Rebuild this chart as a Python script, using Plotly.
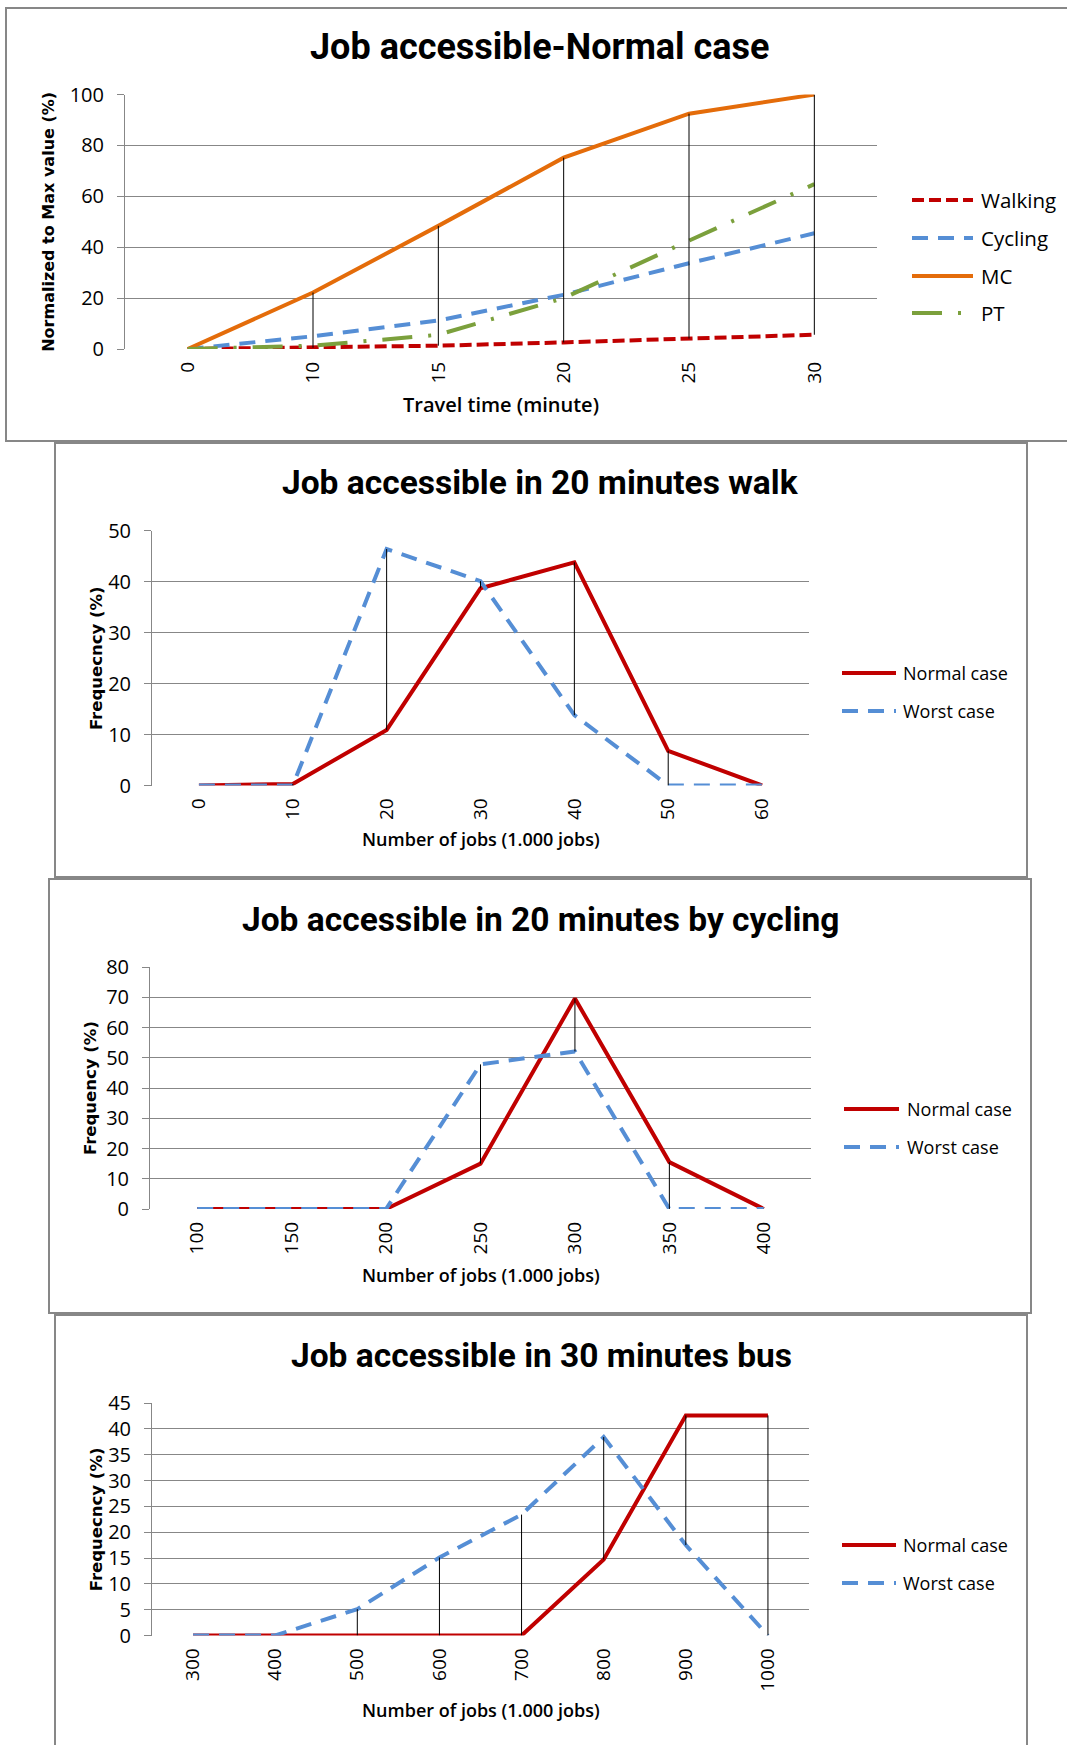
import plotly.graph_objects as go

W, H = 1067, 1745

# ---- Panel 1: jobs reachable vs travel time (normalised to max) ----
travel_time = ["0", "10", "15", "20", "25", "30"]
walking = [0, 0.5, 1.3, 2.6, 4.1, 5.6]
cycling = [0, 5.0, 11.2, 21.3, 33.7, 45.5]
mc = [0, 22.2, 48.4, 75.2, 92.5, 100]
pt = [0, 1.3, 5.6, 20.0, 42.6, 64.8]

# ---- Panel 2: 20 minutes walk ----
walk_jobs = ["0", "10", "20", "30", "40", "50", "60"]
walk_normal = [0, 0.3, 10.9, 38.7, 43.8, 6.8, 0]
walk_worst = [0, 0, 46.4, 40.1, 13.8, 0, 0]

# ---- Panel 3: 20 minutes by cycling ----
cyc_jobs = ["100", "150", "200", "250", "300", "350", "400"]
cyc_normal = [0, 0, 0, 15.0, 69.6, 15.5, 0]
cyc_worst = [0, 0, 0, 47.8, 52.1, 0, 0]

# ---- Panel 4: 30 minutes bus ----
bus_jobs = ["300", "400", "500", "600", "700", "800", "900", "1000"]
bus_normal = [0, 0, 0, 0, 0, 14.7, 42.6, 42.6]
bus_worst = [0, 0, 5.1, 15.1, 23.4, 38.4, 17.5, 0]

RED = "#C00000"
BLUE = "#558ED5"
ORANGE = "#E46C0A"
GREEN = "#7BA03C"
GRID = "#878787"
FRAME = "#878787"

TITLE_FAMILY = "Roboto, Lato, sans-serif"
TICK_FONT = dict(family="Open Sans, sans-serif", size=20, color="black")
XTICK_FONT = dict(family="Open Sans, sans-serif", size=19, color="black")

WALK_DASH = "12px,5px"
CYC_DASH = "16px,10px"
PT_DASH = "30px,16px,3px,16px"

panels = [
    dict(
        plot=(125, 94.6, 877, 349), frame=(6, 8, 1080, 441),
        cats=travel_time, yrange=100, dtick=20,
        series=[("Walking", walking, RED, WALK_DASH),
                ("Cycling", cycling, BLUE, CYC_DASH),
                ("MC", mc, ORANGE, "solid"),
                ("PT", pt, GREEN, PT_DASH)],
        title=("Job accessible-Normal case", 540, 47, 36),
        ytitle=("Normalized to Max value (%)", 49, 16),
        xtitle=("Travel time (minute)", 405, 20),
        legend=dict(x0=912, x1=973, tx=979, y=[200, 238, 276, 313], size=20.5),
    ),
    dict(
        plot=(152, 530.7, 809, 785.5), frame=(55, 443, 1027, 877),
        cats=walk_jobs, yrange=50, dtick=10,
        series=[("Normal case", walk_normal, RED, "solid"),
                ("Worst case", walk_worst, BLUE, CYC_DASH)],
        title=("Job accessible in 20 minutes walk", 540, 483, 33.5),
        ytitle=("Frequecncy (%)", 96, 16.5),
        xtitle=("Number of jobs (1.000 jobs)", 839, 18),
        legend=dict(x0=842, x1=896, tx=901, y=[673, 711], size=18),
    ),
    dict(
        plot=(150, 967, 811, 1209), frame=(49, 879, 1031, 1313),
        cats=cyc_jobs, yrange=80, dtick=10,
        series=[("Normal case", cyc_normal, RED, "solid"),
                ("Worst case", cyc_worst, BLUE, CYC_DASH)],
        title=("Job accessible in 20 minutes by cycling", 540, 919, 33.5),
        ytitle=("Frequency (%)", 90, 16.5),
        xtitle=("Number of jobs (1.000 jobs)", 1275, 18),
        legend=dict(x0=844, x1=899, tx=905, y=[1109, 1147], size=18),
    ),
    dict(
        plot=(152, 1403, 809, 1635.5), frame=(55, 1315, 1027, 1760),
        cats=bus_jobs, yrange=45, dtick=5,
        series=[("Normal case", bus_normal, RED, "solid"),
                ("Worst case", bus_worst, BLUE, CYC_DASH)],
        title=("Job accessible in 30 minutes bus", 541, 1355, 33.5),
        ytitle=("Frequecncy (%)", 96, 16.5),
        xtitle=("Number of jobs (1.000 jobs)", 1710, 18),
        legend=dict(x0=842, x1=896, tx=901, y=[1545, 1583], size=18),
    ),
]


def px(x):
    return x / W


def py(y):
    return 1 - y / H


fig = go.Figure()
shapes = []
annotations = []
layout = {}

for k, p in enumerate(panels, start=1):
    sfx = "" if k == 1 else str(k)
    xa, ya = "x" + sfx, "y" + sfx
    x0, y0, x1, y1 = p["plot"]
    cats = p["cats"]
    n = len(cats)

    layout["xaxis" + sfx] = dict(
        domain=[px(x0), px(x1)], anchor=ya, type="category",
        range=[-0.5, n - 0.5], showgrid=False, showline=False, zeroline=False,
        ticks="", tickangle=-90, tickfont=XTICK_FONT, ticklabelstandoff=8,
        fixedrange=True, automargin=False,
    )
    layout["yaxis" + sfx] = dict(
        domain=[py(y1), py(y0)], anchor=xa, range=[0, p["yrange"]],
        dtick=p["dtick"], tick0=0, showgrid=True, gridcolor=GRID, gridwidth=1,
        showline=True, linecolor=GRID, linewidth=1, zeroline=False,
        ticks="outside", ticklen=7, tickcolor=GRID, tickfont=TICK_FONT,
        ticklabelstandoff=9, fixedrange=True, automargin=False,
    )

    # series lines
    for name, vals, color, dash in p["series"]:
        fig.add_trace(go.Scatter(
            x=cats, y=vals, mode="lines", name=name, xaxis=xa, yaxis=ya,
            line=dict(color=color, width=4, dash=dash), showlegend=False,
        ))

    # high-low lines between the series at each category
    hx, hy = [], []
    for i, c in enumerate(cats):
        col = [s[1][i] for s in p["series"]]
        lo, hi = min(col), max(col)
        if hi > lo:
            hx += [c, c, None]
            hy += [lo, hi, None]
    fig.add_trace(go.Scatter(
        x=hx, y=hy, mode="lines", xaxis=xa, yaxis=ya, showlegend=False,
        line=dict(color="black", width=1), hoverinfo="skip",
    ))

    # chart frame
    fx0, fy0, fx1, fy1 = p["frame"]
    shapes.append(dict(
        type="rect", xref="paper", yref="paper",
        x0=px(fx0), x1=px(fx1), y0=py(fy1), y1=py(fy0),
        line=dict(color=FRAME, width=2), fillcolor="rgba(0,0,0,0)", layer="below",
    ))

    # chart title
    t, tx, ty, ts = p["title"]
    annotations.append(dict(
        text=t, x=px(tx), y=py(ty), xref="paper", yref="paper",
        xanchor="center", yanchor="middle", showarrow=False,
        font=dict(family=TITLE_FAMILY, size=ts, color="black", weight=700),
    ))

    # axis titles
    yt, ytx, yts = p["ytitle"]
    annotations.append(dict(
        text=yt, x=px(ytx), y=py((y0 + y1) / 2), xref="paper", yref="paper",
        xanchor="center", yanchor="middle", textangle=-90, showarrow=False,
        font=dict(family="DejaVu Sans, sans-serif", size=yts, color="black", weight=700),
    ))
    xt, xty, xts = p["xtitle"]
    annotations.append(dict(
        text=xt, x=px((x0 + x1) / 2), y=py(xty), xref="paper", yref="paper",
        xanchor="center", yanchor="middle", showarrow=False,
        font=dict(family="Open Sans, sans-serif", size=xts, color="black", weight=600),
    ))

    # legend entries
    lg = p["legend"]
    for (name, vals, color, dash), ly in zip(p["series"], lg["y"]):
        shapes.append(dict(
            type="line", xref="paper", yref="paper",
            x0=px(lg["x0"]), x1=px(lg["x1"]), y0=py(ly), y1=py(ly),
            line=dict(color=color, width=4, dash=dash),
        ))
        annotations.append(dict(
            text=name, x=px(lg["tx"]), y=py(ly), xref="paper", yref="paper",
            xanchor="left", yanchor="middle", showarrow=False,
            font=dict(family="Open Sans, sans-serif", size=lg["size"], color="black"),
        ))

fig.update_layout(
    width=W, height=H, margin=dict(l=0, r=0, t=0, b=0, autoexpand=False),
    paper_bgcolor="white", plot_bgcolor="white",
    shapes=shapes, annotations=annotations, showlegend=False,
    **layout,
)

# page without body margin so the figure fills the window exactly
fig.write_html(
    "out.html",
    config={"displayModeBar": False},
    post_script="document.body.style.margin='0';document.body.style.overflow='hidden';",
)
